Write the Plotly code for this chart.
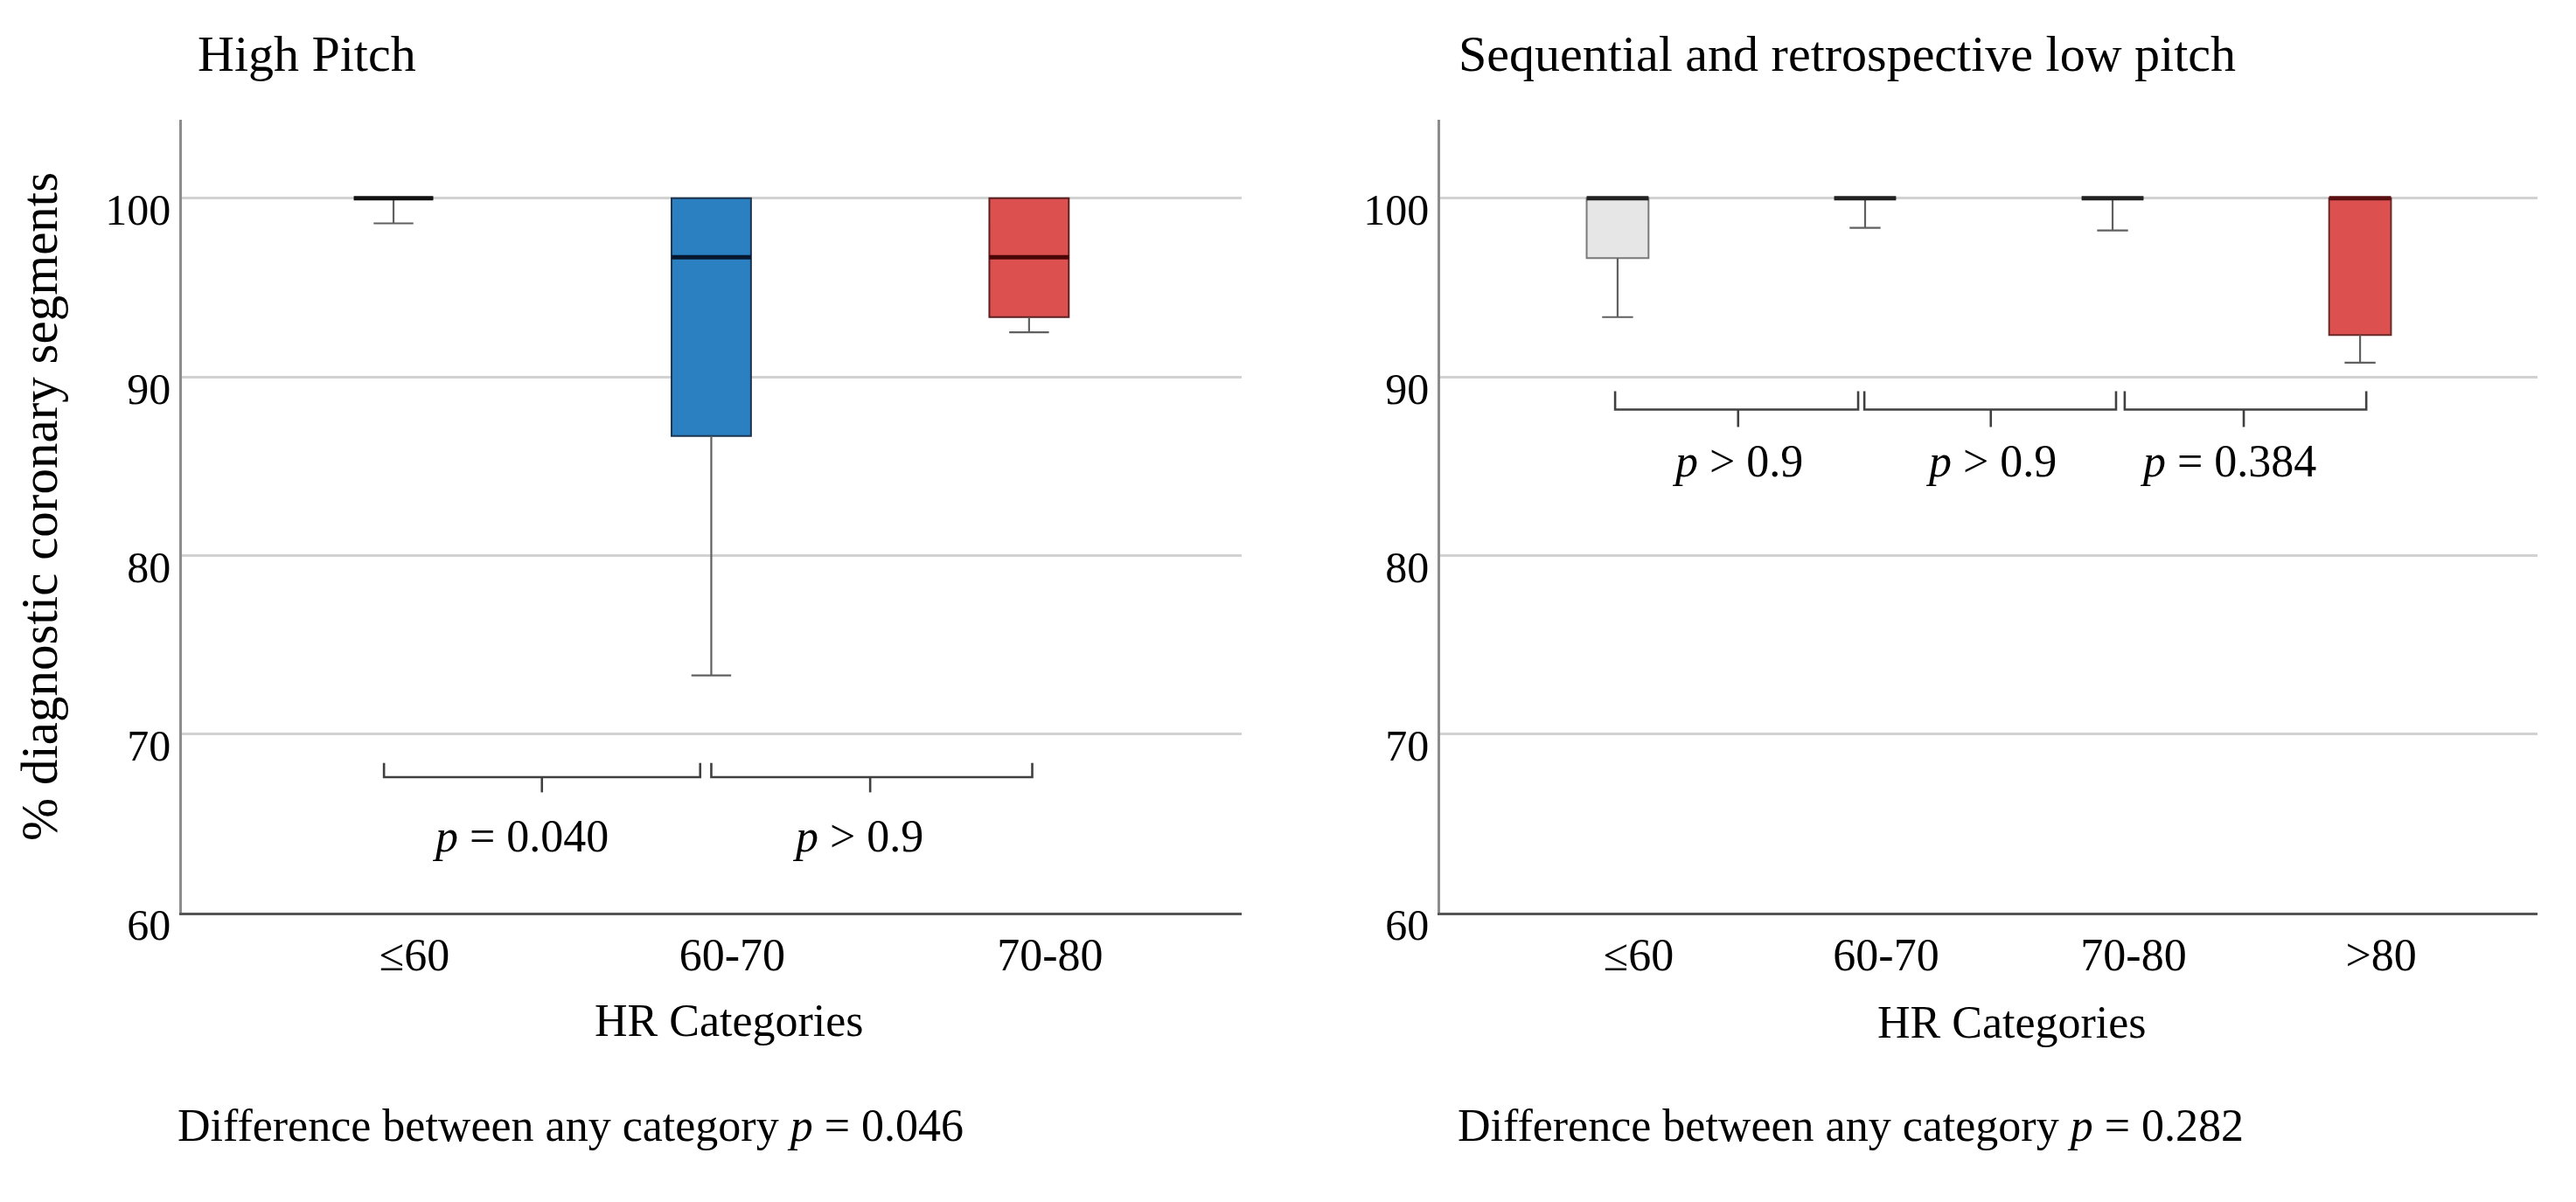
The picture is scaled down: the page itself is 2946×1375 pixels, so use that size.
import plotly.graph_objects as go

W, H = 2946, 1375
FONT = "Liberation Serif"

# ---------------- data ----------------
hp_categories = ["≤60", "60-70", "70-80"]
hp_q1 = [100.0, 86.7, 93.35]
hp_median = [100.0, 96.7, 96.7]
hp_q3 = [100.0, 100.0, 100.0]
hp_lower = [98.6, 73.3, 92.5]
hp_upper = [100.0, 100.0, 100.0]
hp_pvalues = ["<i>p</i> = 0.040", "<i>p</i> > 0.9"]

lp_categories = ["≤60", "60-70", "70-80", ">80"]
lp_q1 = [96.65, 100.0, 100.0, 92.35]
lp_median = [100.0, 100.0, 100.0, 100.0]
lp_q3 = [100.0, 100.0, 100.0, 100.0]
lp_lower = [93.35, 98.35, 98.2, 90.8]
lp_upper = [100.0, 100.0, 100.0, 100.0]
lp_pvalues = ["<i>p</i> > 0.9", "<i>p</i> > 0.9", "<i>p</i> = 0.384"]

overall_p = ["0.046", "0.282"]
y_ticks = [60, 70, 80, 90, 100]

# ---------------- styles ----------------
hp_fill = ["#e6e6e6", "#2a80c0", "#dc5050"]
hp_border = ["#6e6e6e", "#1d3550", "#5c2020"]
hp_medc = ["#111111", "#07172e", "#4a0505"]
lp_fill = ["#e6e6e6", "#e6e6e6", "#e6e6e6", "#dc5050"]
lp_border = ["#7a7a7a", "#6e6e6e", "#6e6e6e", "#6a2a2a"]
lp_medc = ["#222222", "#222222", "#222222", "#5a1010"]
WHISKER_C = "#606060"
BOX_W = 0.25
CAP_W = 0.5 * BOX_W

fig = go.Figure()


def add_panel(xa, ya, q1, med, q3, lo, up, fill, border, medc):
    # whiskers (drawn under the boxes)
    wx, wy = [], []
    for i in range(len(q1)):
        wx += [i, i, None, i - CAP_W / 2, i + CAP_W / 2, None]
        wy += [q1[i], lo[i], None, lo[i], lo[i], None]
        if up[i] > q3[i]:
            wx += [i, i, None, i - CAP_W / 2, i + CAP_W / 2, None]
            wy += [q3[i], up[i], None, up[i], up[i], None]
    fig.add_trace(go.Scatter(
        x=wx, y=wy, mode="lines", line=dict(color=WHISKER_C, width=2.2),
        xaxis=xa, yaxis=ya, hoverinfo="skip", showlegend=False,
    ))
    for i in range(len(q1)):
        fig.add_trace(go.Box(
            x=[i], q1=[q1[i]], median=[med[i]], q3=[q3[i]],
            lowerfence=[q1[i]], upperfence=[q3[i]],
            width=BOX_W, whiskerwidth=0,
            fillcolor=fill[i], line=dict(color=border[i], width=2),
            xaxis=xa, yaxis=ya, hoverinfo="skip", showlegend=False,
        ))
        fig.add_trace(go.Scatter(
            x=[i - BOX_W / 2, i + BOX_W / 2], y=[med[i], med[i]],
            mode="lines", line=dict(color=medc[i], width=5),
            xaxis=xa, yaxis=ya, hoverinfo="skip", showlegend=False,
        ))


add_panel("x", "y", hp_q1, hp_median, hp_q3, hp_lower, hp_upper,
          hp_fill, hp_border, hp_medc)
add_panel("x2", "y2", lp_q1, lp_median, lp_q3, lp_lower, lp_upper,
          lp_fill, lp_border, lp_medc)


def add_brackets(xa, ya, lefts, rights, mids, ytop, ybar, ytick):
    xs, ys = [], []
    for l, r, m in zip(lefts, rights, mids):
        xs += [l, l, r, r, None, m, m, None]
        ys += [ytop, ybar, ybar, ytop, None, ybar, ytick, None]
    fig.add_trace(go.Scatter(
        x=xs, y=ys, mode="lines", line=dict(color="#404040", width=2.6),
        xaxis=xa, yaxis=ya, hoverinfo="skip", showlegend=False,
    ))


add_brackets("x", "y", [-0.03, 1.0], [0.965, 2.01], [0.467, 1.50],
             68.4, 67.6, 66.75)
add_brackets("x2", "y2", [-0.01, 0.997, 2.049], [0.972, 2.014, 3.025],
             [0.487, 1.508, 2.53], 89.2, 88.18, 87.2)

annotations = []
for xv, t in zip([0.40, 1.46], hp_pvalues):
    annotations.append(dict(x=xv, y=64.3, xref="x", yref="y", text=t,
                            showarrow=False, xanchor="center", yanchor="middle",
                            font=dict(family=FONT, size=52, color="black")))
for xv, t in zip([0.484, 1.51, 2.466], lp_pvalues):
    annotations.append(dict(x=xv, y=85.3, xref="x2", yref="y2", text=t,
                            showarrow=False, xanchor="center", yanchor="middle",
                            font=dict(family=FONT, size=52, color="black")))


def pp(px, py):
    return px / W, 1 - py / H


def add_text(px, py, text, size, xanchor="left", angle=0):
    x, y = pp(px, py)
    annotations.append(dict(x=x, y=y, xref="paper", yref="paper", text=text,
                            showarrow=False, xanchor=xanchor, yanchor="middle",
                            textangle=angle,
                            font=dict(family=FONT, size=size, color="black")))


add_text(216, 55, "High Pitch", 58)
add_text(1658, 55, "Sequential and retrospective low pitch", 58)
add_text(826, 1196, "HR Categories", 52, xanchor="center")
add_text(2293, 1198, "HR Categories", 52, xanchor="center")
add_text(193, 1320, "Difference between any category <i>p</i> = " + overall_p[0], 52)
add_text(1657, 1320, "Difference between any category <i>p</i> = " + overall_p[1], 52)
add_text(37, 590, "% diagnostic coronary segments", 59, xanchor="center", angle=-90)

ydom = [1 - 1069 / H, 1 - 133 / H]
yaxis_style = dict(
    domain=ydom, range=[60, 104.4], tickvals=y_ticks, ticks="",
    showgrid=True, gridcolor="#d2d2d2", gridwidth=2.5,
    showline=True, linecolor="#8c8c8c", linewidth=2.5, zeroline=False,
    tickfont=dict(family=FONT, size=50, color="black"),
    ticklabelshift=13, fixedrange=True,
)
xaxis_style = dict(
    ticks="", showgrid=False, zeroline=False,
    showline=True, linecolor="#555555", linewidth=3,
    tickfont=dict(family=FONT, size=52, color="black"),
    ticklabelshift=24, fixedrange=True,
)

fig.update_layout(
    width=W, height=H, margin=dict(l=0, r=0, t=0, b=0),
    paper_bgcolor="white", plot_bgcolor="white", showlegend=False,
    boxmode="overlay",
    xaxis=dict(domain=[200 / W, 1412 / W], range=[-0.666, 2.669],
               tickvals=list(range(len(hp_categories))), ticktext=hp_categories,
               anchor="y", **xaxis_style),
    yaxis=dict(anchor="x", **yaxis_style),
    xaxis2=dict(domain=[1639 / W, 2894 / W], range=[-0.717, 3.717],
                tickvals=list(range(len(lp_categories))), ticktext=lp_categories,
                anchor="y2", **xaxis_style),
    yaxis2=dict(anchor="x2", **yaxis_style),
    annotations=annotations,
)

fig.write_html("out.html")
